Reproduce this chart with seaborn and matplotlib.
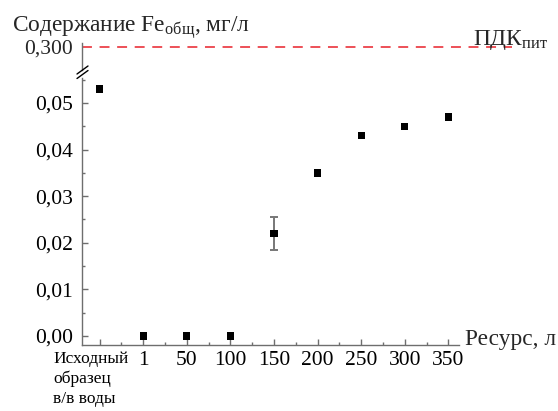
import numpy as np
import pandas as pd
import matplotlib
matplotlib.use("Agg")
import matplotlib.pyplot as plt
from matplotlib.lines import Line2D
from matplotlib.ticker import FixedLocator, MultipleLocator, FuncFormatter
import seaborn as sns

# ---- data -------------------------------------------------------------
resource_labels = ["Исходный\nобразец\nв/в воды", "1", "50", "100", "150",
                   "200", "250", "300", "350"]
fe_total = [0.053, 0.0, 0.0, 0.0, 0.022, 0.035, 0.043, 0.045, 0.047]
fe_error = [0.0, 0.0, 0.0, 0.0, 0.0035, 0.0, 0.0, 0.0, 0.0]
pdk_value = 0.300
y_ticks = [0.00, 0.01, 0.02, 0.03, 0.04, 0.05]

df = pd.DataFrame({"pos": np.arange(len(resource_labels)),
                   "fe": fe_total, "err": fe_error})

# ---- style ------------------------------------------------------------
sns.set_theme(style="ticks")
plt.rcParams["font.family"] = "serif"
plt.rcParams["font.serif"] = ["Liberation Serif", "DejaVu Serif"]
plt.rcParams["mathtext.fontset"] = "custom"
plt.rcParams["mathtext.rm"] = "Liberation Serif"
plt.rcParams["mathtext.it"] = "Liberation Serif:italic"

W, H = 558, 411
fig = plt.figure(figsize=(W / 100, H / 100), dpi=100)


def frame(x0, y0, x1, y1):
    return [x0 / W, 1 - y1 / H, (x1 - x0) / W, (y1 - y0) / H]


def comma(v, digits):
    return f"{v:.{digits}f}".replace(".", ",")


spine_c = "#6e6e6e"
fs = 15.5      # tick labels
fs_big = 16.8  # axis captions

# lower (main) panel
ax = fig.add_axes(frame(82, 78, 459, 345))
# upper panel holding the broken-off 0,300 level
ax_top = fig.add_axes(frame(82, 43, 512, 70))

has_err = df["err"] > 0
ax.errorbar(df["pos"][has_err], df["fe"][has_err], yerr=df["err"][has_err],
            fmt="none", ecolor="#777777", elinewidth=1.4, capsize=3,
            capthick=1.4, zorder=2)
sns.scatterplot(data=df, x="pos", y="fe", marker="s", s=28, color="black",
                edgecolor="none", linewidth=0, ax=ax, zorder=3, legend=False)

ax.set_xlim(-0.404, 8.243)
ax.set_ylim(-0.00193, 0.05536)
ax.set_xlabel("")
ax.set_ylabel("")

for side in ("top", "right"):
    ax.spines[side].set_visible(False)
for side in ("left", "bottom"):
    ax.spines[side].set_color(spine_c)
    ax.spines[side].set_linewidth(1.0)

ax.xaxis.set_major_locator(FixedLocator(df["pos"]))
ax.set_xticklabels([""] + resource_labels[1:])
ax.xaxis.set_minor_locator(FixedLocator(df["pos"][:-1] + 0.5))
ax.yaxis.set_major_locator(FixedLocator(y_ticks))
ax.yaxis.set_minor_locator(MultipleLocator(0.005))
ax.yaxis.set_major_formatter(FuncFormatter(lambda v, p: comma(v, 2)))
ax.tick_params(which="major", direction="in", length=4, width=1.0,
               color=spine_c, labelsize=fs, labelcolor="black")
ax.tick_params(which="minor", direction="in", length=2.5, width=1.0, color=spine_c)
ax.tick_params(axis="x", which="major", pad=4.5)
ax.tick_params(axis="y", which="major", pad=6.5)

# first category label, smaller and multi-line
ax.text(-1.07, -0.022, resource_labels[0], transform=ax.get_xaxis_transform(),
        ha="left", va="top", fontsize=12.5, linespacing=1.3, color="black")

ax.annotate("Ресурс, л", xy=(1, 0), xycoords="axes fraction",
            xytext=(4.5, 0), textcoords="offset points",
            ha="left", va="baseline", fontsize=fs_big)

# upper panel: only the left spine and the 0,300 level
ax_top.set_xlim(0, 1)
ax_top.set_ylim(0.277, 0.304)
ax_top.axhline(pdk_value, color="#e8202a", linewidth=1.1,
               linestyle=(0, (6.5, 5)))
for side in ("top", "right", "bottom"):
    ax_top.spines[side].set_visible(False)
ax_top.spines["left"].set_color(spine_c)
ax_top.spines["left"].set_linewidth(1.0)
ax_top.set_xticks([])
ax_top.set_yticks([])
ax_top.annotate(comma(pdk_value, 3), xy=(0, pdk_value),
                xycoords=("axes fraction", "data"), xytext=(-6.5, -1.6),
                textcoords="offset points", ha="right", va="center",
                fontsize=fs)
ax_top.patch.set_alpha(0)
ax.patch.set_alpha(0)

ax_top.annotate(r"ПДК$_{\mathrm{пит}}$", xy=(1, pdk_value),
                xycoords=("axes fraction", "data"), xytext=(26, 1.5),
                textcoords="offset points", ha="right", va="baseline",
                fontsize=fs_big)
fig.text(12 / W, 1 - 32 / H, r"Содержание Fe$_{\mathrm{общ}}$, мг/л",
         ha="left", va="baseline", fontsize=fs_big)

# axis-break marks on the left spine
for dy in (0, 4.5):
    fig.add_artist(Line2D([77 / W, 88 / W], [1 - (74 + dy) / H, 1 - (66 + dy) / H],
                          color="black", linewidth=1.0, transform=fig.transFigure))

fig.savefig("out.png", dpi=100)
